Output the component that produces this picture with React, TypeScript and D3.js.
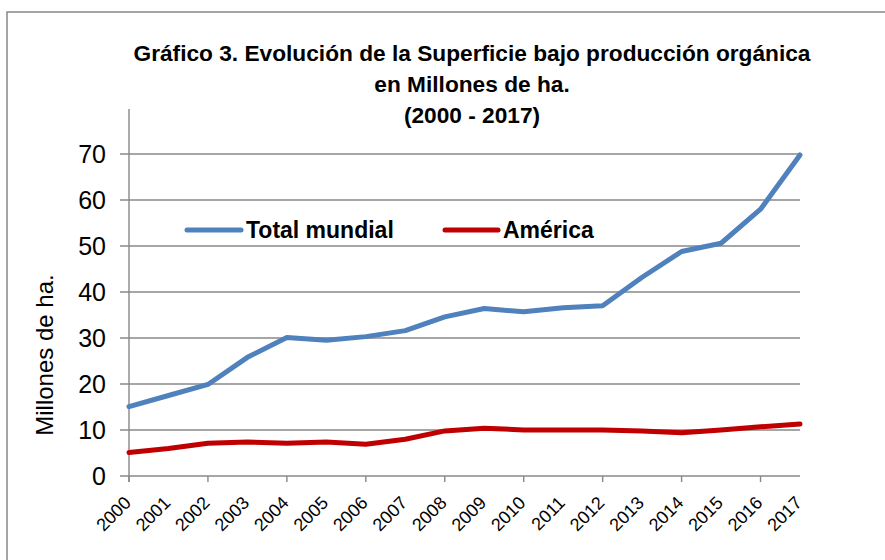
import React from "react";
import * as d3 from "d3";

const years = ["2000","2001","2002","2003","2004","2005","2006","2007","2008","2009","2010","2011","2012","2013","2014","2015","2016","2017"];
const totalMundial = [15.1, 17.5, 19.9, 25.8, 30.1, 29.5, 30.3, 31.6, 34.6, 36.4, 35.7, 36.6, 37.0, 43.2, 48.8, 50.6, 58.0, 69.8];
const america = [5.1, 6.0, 7.1, 7.4, 7.1, 7.4, 6.9, 8.0, 9.8, 10.4, 10.0, 10.0, 10.0, 9.8, 9.4, 10.0, 10.7, 11.3];
const yTicks = [0, 10, 20, 30, 40, 50, 60, 70];
const titleLines = ["Gráfico 3. Evolución de la Superficie bajo producción orgánica", "en Millones de ha.", "(2000 - 2017)"];
const seriesNames = ["Total mundial", "América"];
const yTitle = "Millones de ha.";

const W = 885, H = 560;
const left = 129, right = 800, top = 154, bottom = 476;
const gridColor = "#888888";
const font = "'Liberation Sans', Arial, sans-serif";

export default function App() {
  const x = d3.scalePoint<string>().domain(years).range([left, right]);
  const y = d3.scaleLinear().domain([0, 70]).range([bottom, top]);
  const line = d3.line<number>().x((_, i) => x(years[i]) as number).y((d) => y(d));
  const xTickYears = years.filter((_, i) => i % 2 === 0);
  const series = [
    { name: seriesNames[0], values: totalMundial, color: "#4F81BD", lx0: 187, lx1: 241, tx: 246 },
    { name: seriesNames[1], values: america, color: "#C00000", lx0: 445, lx1: 498, tx: 503 },
  ];
  return (
    <svg width={W} height={H} style={{ position: "absolute", left: 0, top: 0, background: "#fff" }} fontFamily={font}>
      <rect x={0} y={0} width={W} height={H} fill="#fff" />
      <rect x={7} y={12} width={W + 20} height={H + 20} fill="none" stroke={gridColor} strokeWidth={1.5} />
      {titleLines.map((t, i) => (
        <text key={i} x={472} y={61 + i * 31} textAnchor="middle" fontWeight="bold" fontSize={22.7} fill="#000">{t}</text>
      ))}
      {yTicks.map((t) => (
        <g key={t}>
          <line x1={120} x2={right} y1={y(t)} y2={y(t)} stroke={gridColor} strokeWidth={1.4} />
          <text x={106} y={y(t) + 8.7} textAnchor="end" fontSize={25} fill="#000">{t}</text>
        </g>
      ))}
      <line x1={left} x2={left} y1={109} y2={bottom + 6} stroke={gridColor} strokeWidth={1.4} />
      {xTickYears.map((yr) => (
        <line key={yr} x1={x(yr)} x2={x(yr)} y1={bottom} y2={bottom + 6} stroke={gridColor} strokeWidth={1.4} />
      ))}
      {years.map((yr) => (
        <text key={yr} transform={`translate(${(x(yr) as number) + 3},${504}) rotate(-45)`} textAnchor="end" fontSize={18} fill="#000">{yr}</text>
      ))}
      <text transform={`translate(53,355) rotate(-90)`} textAnchor="middle" fontSize={24} fill="#000">{yTitle}</text>
      {series.map((s) => (
        <path key={s.name} d={line(s.values) || ""} fill="none" stroke={s.color} strokeWidth={5} strokeLinejoin="round" strokeLinecap="round" />
      ))}
      {series.map((s) => (
        <g key={s.name + "-leg"}>
          <line x1={s.lx0} x2={s.lx1} y1={230} y2={230} stroke={s.color} strokeWidth={5} strokeLinecap="round" />
          <text x={s.tx} y={238} fontWeight="bold" fontSize={23} fill="#000">{s.name}</text>
        </g>
      ))}
    </svg>
  );
}
